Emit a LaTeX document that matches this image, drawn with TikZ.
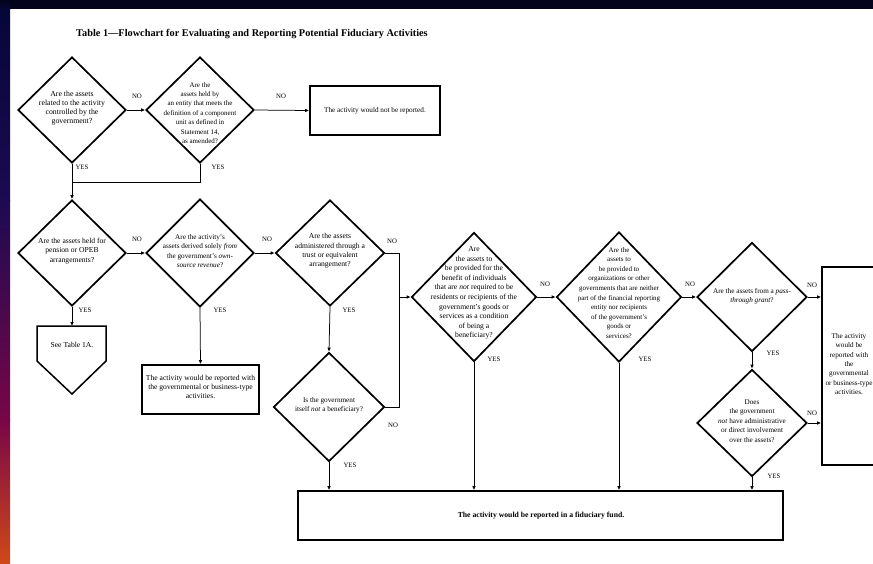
\documentclass[tikz,border=0pt]{standalone}
\usepackage{fontspec}
\setmainfont{Liberation Serif}
\usetikzlibrary{shapes.geometric,arrows.meta}
\definecolor{navy}{HTML}{03031C}
\definecolor{stripA}{HTML}{06063A}
\definecolor{stripB}{HTML}{1C0A52}
\definecolor{stripC}{HTML}{780648}
\definecolor{stripD}{HTML}{D04818}
\tikzset{
  dia/.style={diamond, draw, line width=1.7pt, inner sep=0pt, fill=white},
  qtext/.style={align=center, inner sep=0pt, font=\fontsize{7.2}{9.4}\selectfont},
  outbox/.style={draw, line width=1.7pt, inner sep=0pt, fill=white},
  lbl/.style={inner sep=0pt, font=\fontsize{6.8}{8}\selectfont},
  link/.style={line width=0.75pt},
  arr/.style={line width=0.75pt, -{Latex[length=4pt,width=3.6pt]}},
}
\begin{document}
\begin{tikzpicture}[x=1pt,y=-1pt]
\useasboundingbox (0,0) rectangle (873,563);
\clip (0,0) rectangle (873,563);
% page frame
\fill[white] (0,0) rectangle (873,563);
\fill[navy] (0,0) rectangle (873,9);
\shade[top color=navy, bottom color=stripA] (0,0) rectangle (10,9.5);
\shade[top color=stripA, bottom color=stripB] (0,9) rectangle (10,200.5);
\shade[top color=stripB, bottom color=stripC] (0,200) rectangle (10,420.5);
\shade[top color=stripC, bottom color=stripD] (0,420) rectangle (10,563);

% title
\node[anchor=west, inner sep=0pt, font=\bfseries\fontsize{10.3}{12}\selectfont] (title) at (76,34)
  {Table 1---Flowchart for Evaluating and Reporting Potential Fiduciary Activities};

% decisions
\node[dia, minimum width=108, minimum height=106] (d1) at (72,110) {};
\node[qtext, font=\fontsize{7.8}{9.2}\selectfont] (d1t) at (72,108) {Are the assets\\related to the activity\\controlled by the\\government?};

\node[dia, minimum width=108, minimum height=106] (d2) at (200,110) {};
\node[qtext, font=\fontsize{7}{9.4}\selectfont] (d2t) at (200,113) {Are the\\assets held by\\an entity that meets the\\definition of a component\\unit as defined in\\Statement 14,\\as amended?};

\node[dia, minimum width=108, minimum height=106] (d3) at (72,253) {};
\node[qtext, font=\fontsize{7.6}{9.4}\selectfont] (d3t) at (72,251) {Are the assets held for\\pension or OPEB\\arrangements?};

\node[dia, minimum width=108, minimum height=108] (d4) at (200,253) {};
\node[qtext] (d4t) at (200,251) {Are the activity's\\assets derived solely \textit{from}\\the government's \textit{own-}\\\textit{source revenue}?};

\node[dia, minimum width=109, minimum height=106] (d5) at (330,253) {};
\node[qtext, font=\fontsize{7.6}{9.4}\selectfont] (d5t) at (330,251) {Are the assets\\administered through a\\trust or equivalent\\arrangement?};

\node[dia, minimum width=111, minimum height=109] (d6) at (329,407) {};
\node[qtext] (d6t) at (329,405) {Is the government\\itself \textit{not} a beneficiary?};

\node[dia, minimum width=125, minimum height=129] (d8) at (474,297) {};
\node[qtext, font=\fontsize{7.6}{9.6}\selectfont] (d8t) at (474,293) {Are\\the assets to\\be provided for the\\benefit of individuals\\that are \textit{not} required to be\\residents or recipients of the\\government's goods or\\services as a condition\\of being a\\beneficiary?};

\node[dia, minimum width=125, minimum height=130] (d9) at (619,297) {};
\node[qtext, font=\fontsize{7}{9.6}\selectfont] (d9t) at (619,293) {Are the\\assets to\\be provided to\\organizations or other\\governments that are neither\\part of the financial reporting\\entity nor recipients\\of the government's\\goods or\\services?};

\node[dia, minimum width=110, minimum height=109] (d10) at (752,297) {};
\node[qtext] (d10t) at (752,296) {Are the assets from a \textit{pass-}\\\textit{through grant}?};

\node[dia, minimum width=110, minimum height=107] (d11) at (752,423) {};
\node[qtext] (d11t) at (752,421) {Does\\the government\\\textit{not} have administrative\\or direct involvement\\over the assets?};

% outcomes
\node[outbox, minimum width=130, minimum height=49] (notrep) at (375,110.5)
  {\fontsize{7.2}{9.4}\selectfont The activity would not be reported.};
\node[outbox, minimum width=117, minimum height=49] (govact) at (200.5,389.5) {};
\node[qtext, font=\fontsize{7.6}{9.4}\selectfont] (govactt) at (200.5,387) {The activity would be reported with\\the governmental or business-type\\activities.};
\node[outbox, minimum width=55, minimum height=198] (govact2) at (849.5,366) {};
\node[qtext] (govact2t) at (849,364) {The activity\\would be\\reported with\\the\\governmental\\or business-type\\activities.};
\node[outbox, minimum width=485, minimum height=49] (fid) at (540.5,515.5) {};
\node[inner sep=0pt, font=\bfseries\fontsize{7.7}{9}\selectfont] (fidt) at (541,516)
  {The activity would be reported in a fiduciary fund.};

% off-page reference
\draw[line width=1.5pt, fill=white] (37,326) -- (106,326) -- (106,361) -- (72,394) -- (37,361) -- cycle;
\node[qtext, font=\fontsize{7.6}{9.4}\selectfont] (seet) at (72,345) {See Table 1A.};
\coordinate (see) at (72,326);

% junctions
\coordinate (m1) at (72,182);
\coordinate (j1) at (399,297);

% connectors
\draw[arr] (d1.east) -- (d2.west);
\draw[arr] (d2.east) -- (notrep.west);
\draw[link] (d2.south) |- (m1);
\draw[arr] (d1.south) -- (d3.north);
\draw[arr] (d3.east) -- (d4.west);
\draw[arr] (d3.south) -- (see);
\draw[arr] (d4.east) -- (d5.west);
\draw[arr] (d4.south) -- (govact.north);
\draw[arr] (d5.south) -- (d6.north);
\draw[link] (d5.east) -| (j1);
\draw[link] (d6.east) -| (j1);
\draw[arr] (j1) -- (d8.west);
\draw[arr] (d6.south) -- (d6.south |- fid.north);
\draw[arr] (d8.east) -- (d9.west);
\draw[arr] (d8.south) -- (d8.south |- fid.north);
\draw[arr] (d9.east) -- (d10.west);
\draw[arr] (d9.south) -- (d9.south |- fid.north);
\draw[arr] (d10.east) -- (d10.east -| govact2.west);
\draw[arr] (d10.south) -- (d11.north);
\draw[arr] (d11.east) -- (d11.east -| govact2.west);
\draw[arr] (d11.south) -- (d11.south |- fid.north);

% branch labels
\node[lbl] (n1) at (137,96) {NO};
\node[lbl] (n2) at (281,96) {NO};
\node[lbl] (y1) at (82,167) {YES};
\node[lbl] (y2) at (218,167) {YES};
\node[lbl] (n3) at (137,239) {NO};
\node[lbl] (y3) at (85,310) {YES};
\node[lbl] (n4) at (267,239) {NO};
\node[lbl] (y4) at (220,310) {YES};
\node[lbl] (n5) at (392,241) {NO};
\node[lbl] (y5) at (349,310) {YES};
\node[lbl] (n6) at (393,425) {NO};
\node[lbl] (y6) at (350,465) {YES};
\node[lbl] (n7) at (545,284) {NO};
\node[lbl] (y7) at (494,359) {YES};
\node[lbl] (n8) at (690,284) {NO};
\node[lbl] (y8) at (645,359) {YES};
\node[lbl] (n9) at (812,285) {NO};
\node[lbl] (y9) at (773,353) {YES};
\node[lbl] (n10) at (812,413) {NO};
\node[lbl] (y10) at (774,476) {YES};
\end{tikzpicture}
\end{document}
